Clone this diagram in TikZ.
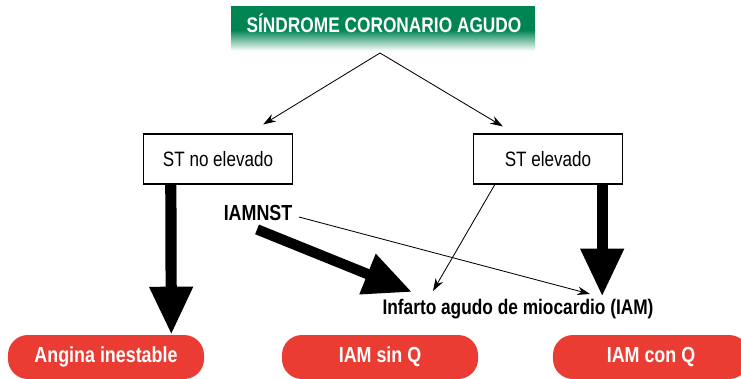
\documentclass[tikz,border=0pt]{standalone}
\usepackage{fontspec}
\setmainfont{Liberation Sans}[FakeStretch=0.82]
\usetikzlibrary{arrows.meta,calc}
\definecolor{scagreen}{RGB}{0,133,82}
\definecolor{scared}{RGB}{234,60,50}
\begin{document}
\begin{tikzpicture}[x=0.025cm, y=-0.025cm,
    stbox/.style={draw, line width=0.8pt, fill=white, minimum width=3.73cm, minimum height=1.25cm, font=\fontsize{14.8}{17}\selectfont},
    redbox/.style={fill=scared, rounded corners=0.5cm, minimum height=1.1cm, text=white, font=\bfseries\fontsize{15.5}{18}\selectfont},
    thin/.style={line width=0.6pt, -{Stealth[length=9pt, width=6pt]}},
    fat/.style={line width=0.28cm, -{Triangle[length=1.2cm, width=1.02cm]}}]
    \useasboundingbox (0,0) rectangle (741,378);

    % title bar with fading bottom
    \fill[scagreen] (231,6) rectangle (535,30);
    \shade[top color=scagreen, bottom color=white] (231,30) rectangle (535,51);
    \node[text=white, font=\bfseries\fontsize{15}{17}\selectfont] (sca) at (384,23) {SÍNDROME CORONARIO AGUDO};
    \coordinate (split) at (380,53);

    \node[stbox] (stnoelev) at (218,159) {ST no elevado};
    \node[stbox] (stelev) at (548,159) {ST elevado};
    \node[font=\bfseries\fontsize{15.5}{18}\selectfont, inner sep=1pt] (iamnst) at (258,213) {IAMNST};
    \node[font=\bfseries\fontsize{15}{18}\selectfont, inner sep=1pt] (infarto) at (518,309) {Infarto agudo de miocardio (IAM)};

    \node[redbox, minimum width=4.9cm] (angina) at (106,357) {Angina inestable};
    \node[redbox, minimum width=4.9cm] (sinq) at (380,357) {IAM sin Q};
    \node[redbox, minimum width=4.9cm] (conq) at (651,357) {IAM con Q};

    % arrow ends above the IAM label
    \coordinate (fatend) at (412,292);
    \coordinate (thinend) at (433,291);
    \coordinate (qend) at (590,294);

    % split arrows
    \draw[thin] (split) -- ($(stnoelev.north east)+(-30,-9)$);
    \draw[thin] (split) -- ($(stelev.north west)+(30,-7)$);

    % fat arrows
    \draw[fat] ($(stnoelev.south west)+(28,0)$) -- ($(angina.north east)+(-33,0)$);
    \draw[fat] ($(stelev.south east)+(-21,0)$) -- ($(stelev.south east)+(-21,112)$);
    \draw[fat, line width=0.26cm] ($(iamnst.south west)+(35,7)$) -- (fatend);

    % thin arrows
    \draw[thin] ($(stelev.south west)+(22,0)$) -- (thinend);
    \draw[thin] ($(iamnst.east)+(5,4)$) -- (qend);
\end{tikzpicture}
\end{document}
